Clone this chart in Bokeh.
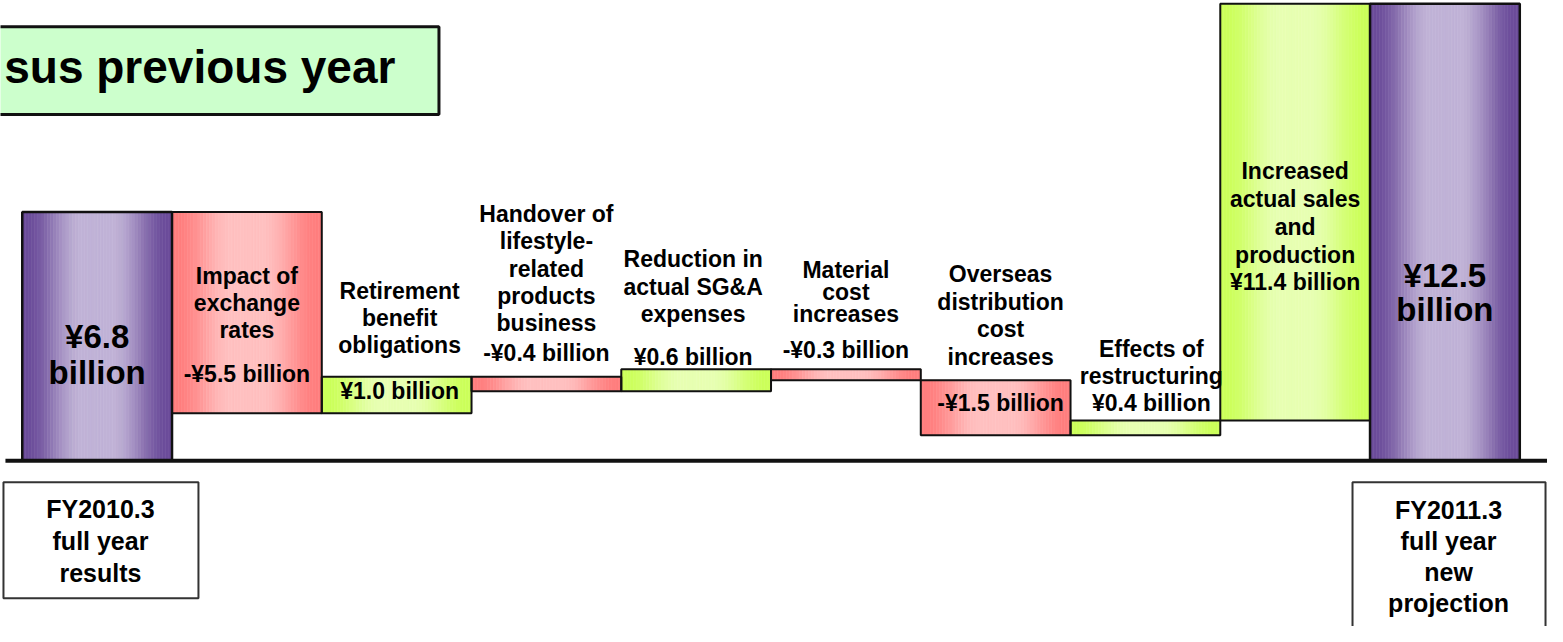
import numpy as np
from bokeh.plotting import figure
from bokeh.models import ColumnDataSource, Range1d
from bokeh.core.properties import value
from bokeh.embed import file_html
from bokeh.resources import INLINE

# ---------------- data ----------------
start_total = 6.8
end_total = 12.5
step_names = [
    "Impact of\nexchange\nrates",
    "Retirement\nbenefit\nobligations",
    "Handover of\nlifestyle-\nrelated\nproducts\nbusiness",
    "Reduction in\nactual SG&A\nexpenses",
    "Material\ncost\nincreases",
    "Overseas\ndistribution\ncost\nincreases",
    "Effects of\nrestructuring",
    "Increased\nactual sales\nand\nproduction",
]
step_values = [-5.5, 1.0, -0.4, 0.6, -0.3, -1.5, 0.4, 11.4]
step_value_labels = [
    "-¥5.5 billion", "¥1.0 billion", "-¥0.4 billion", "¥0.6 billion",
    "-¥0.3 billion", "-¥1.5 billion", "¥0.4 billion", "¥11.4 billion",
]
start_label = "¥6.8\nbillion"
end_label = "¥12.5\nbillion"
start_category = "FY2010.3\nfull year\nresults"
end_category = "FY2011.3\nfull year\nnew\nprojection"
title_text = "sus previous year"

# ---------------- layout helpers (reference pixels -> data) ----------------
W, H = 1547, 626
PX_X = 151.3   # reference pixels per category slot
PX_Y = 37.5    # reference pixels per billion


def X(rx):
    return (rx - 22) / PX_X


def Y(ry):
    return (472 - ry) / PX_Y


p = figure(width=W, height=H, output_backend="svg", toolbar_location=None,
           x_range=Range1d(X(0), X(1563)),
           y_range=Range1d(Y(642), Y(0)),
           min_border=0, outline_line_color=None)
p.axis.visible = False
p.grid.visible = False
p.background_fill_color = "white"

# ---------------- bar geometry ----------------
n = len(step_values) + 2
bottoms, tops, kinds = [0.0], [start_total], ["total"]
level = start_total
for v in step_values:
    new = level + v
    bottoms.append(min(level, new))
    tops.append(max(level, new))
    kinds.append("up" if v > 0 else "down")
    level = new
bottoms.append(0.0)
tops.append(end_total)
kinds.append("total")

palette = {
    "total": ((107, 76, 154), (192, 178, 214)),
    "up": ((204, 255, 90), (231, 255, 178)),
    "down": ((255, 126, 126), (255, 192, 192)),
}


def smooth(u):
    u = min(max(u, 0.0), 1.0)
    return u * u * (3 - 2 * u)


NS = 48
sl, sr, sb, st, sc = [], [], [], [], []
for i in range(n):
    edge, cen = palette[kinds[i]]
    for j in range(NS):
        t = (j + 0.5) / NS
        d = min(t, 1 - t)
        f = smooth((d - 0.03) / 0.37)
        c = tuple(int(round(edge[k] + (cen[k] - edge[k]) * f)) for k in range(3))
        sl.append(i + j / NS)
        sr.append(i + (j + 1) / NS)
        sb.append(bottoms[i])
        st.append(tops[i])
        sc.append("#%02x%02x%02x" % c)

p.quad(left="l", right="r", bottom="b", top="t", fill_color="c", line_color="c",
       line_width=0.6, source=ColumnDataSource(dict(l=sl, r=sr, b=sb, t=st, c=sc)))

lw = [2.5 if k == "total" else 2 for k in kinds]
p.quad(left=list(range(n)), right=[i + 1 for i in range(n)], bottom=bottoms, top=tops,
       fill_color=None, line_color="#111111", line_width=lw)

# baseline
p.segment(x0=[X(5)], y0=[0], x1=[X(1570)], y1=[0], line_color="#111111", line_width=4)

# title box
p.quad(left=[X(-20)], right=[X(443)], top=[Y(27)], bottom=[Y(117)],
       fill_color="#CCFFCC", line_color="#111111", line_width=3)
p.text(x=[X(399)], y=[Y(68)], text=[title_text], text_font=value("Liberation Sans"),
       text_font_style="bold", text_font_size="46px", text_align="right",
       text_baseline="middle", text_color="black")

# category boxes
p.quad(left=[X(3), X(1366)], right=[X(200), X(1561)], top=[Y(494), Y(494)],
       bottom=[Y(613), Y(680)], fill_color="white", line_color="#333333", line_width=2)

# ---------------- text ----------------
FONT = value("Liberation Sans")


def add_lines(txt, cx, y0, step, xs, ys, ts):
    for k, line in enumerate(txt.split("\n")):
        xs.append(cx)
        ys.append(Y(y0 + k * step))
        ts.append(line)


# step labels: (first name line y, spacing, value y, dx) in reference pixels
label_layout = [
    (283, 27.5, 383, 0),
    (298, 27.5, 400, 3),
    (219, 28.0, 362, 0),
    (265, 28.5, 366, -3),
    (276, 23.0, 358, 0),
    (280, 28.7, 413, 5),
    (357, 28.0, 413, 6),
    (175, 28.5, 289, 0),
]
xs, ys, ts = [], [], []
for i, (name, vlab) in enumerate(zip(step_names, step_value_labels)):
    y0, stp, vy, dx = label_layout[i]
    cx = i + 1.5 + dx / PX_X
    add_lines(name, cx, y0, stp, xs, ys, ts)
    add_lines(vlab, cx, vy, 0, xs, ys, ts)
p.text(x=xs, y=ys, text=ts, text_font=FONT, text_font_style="bold",
       text_font_size="23px", text_align="center", text_baseline="middle",
       text_color="black")

# total labels
xs, ys, ts = [], [], []
add_lines(start_label, 0.5, 345, 37, xs, ys, ts)
add_lines(end_label, n - 0.5, 282, 35, xs, ys, ts)
p.text(x=xs, y=ys, text=ts, text_font=FONT, text_font_style="bold",
       text_font_size="33px", text_align="center", text_baseline="middle",
       text_color="black")

# category labels
xs, ys, ts = [], [], []
add_lines(start_category, X(101), 522, 32.5, xs, ys, ts)
add_lines(end_category, X(1463), 523, 31.5, xs, ys, ts)
p.text(x=xs, y=ys, text=ts, text_font=FONT, text_font_style="bold",
       text_font_size="25px", text_align="center", text_baseline="middle",
       text_color="black")

open("out.html", "w").write(file_html(p, INLINE))
